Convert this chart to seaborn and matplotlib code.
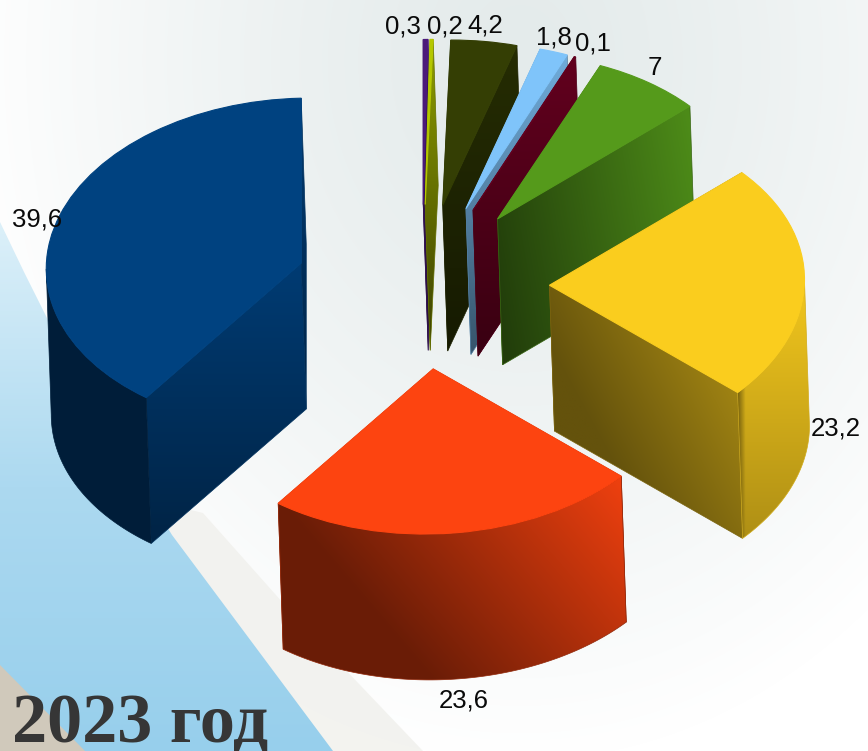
import numpy as np
import matplotlib
matplotlib.use("Agg")
import matplotlib.pyplot as plt
from matplotlib.colors import to_rgb
from matplotlib.patches import Polygon
from matplotlib.transforms import Affine2D
import seaborn as sns

# ---- data ----
values = [0.3, 0.2, 4.2, 1.8, 0.1, 7, 23.2, 23.6, 39.6]
labels = ["0,3", "0,2", "4,2", "1,8", "0,1", "7", "23,2", "23,6", "39,6"]
colors = ["#4b1a7a", "#b5c800", "#343e04", "#7fc4fa", "#62001e",
          "#559a1b", "#facd1e", "#fd4410", "#004280"]
title = "2023 год"

# ---- style ----
W, H = 868, 751
CX, CY, A, B = 422, 287, 255, 165       # pie centre and ellipse radii (px)
DEPTH_PX, SHEAR_PX = 146, 5
EXPLODE = 0.5
TILT = 0.034                            # slight view tilt of the whole pie

sns.set_theme(style="white")
plt.rcParams["font.family"] = ["Liberation Sans", "DejaVu Sans"]

fig = plt.figure(figsize=(W / 100, H / 100), dpi=100)
ax = fig.add_axes([0, 0, 1, 1])
ax.set_axis_off()

def P(px, py):
    return (px - CX) / A, (CY - py) / B

# ---- background ----
XLIM = (P(0, 0)[0], P(W, 0)[0])
YLIM = (P(0, H)[1], P(0, 0)[1])
yy, xx = np.mgrid[0:H, 0:W]
dist = np.hypot((xx - 520) / 560, (yy - 60) / 700)
t = np.clip(dist, 0, 1) ** 1.3
bg_c = np.array(to_rgb("#e4ebeb"))
bg = bg_c[None, None, :] + (1 - bg_c)[None, None, :] * t[..., None]
ax.imshow(bg, extent=(*XLIM, *YLIM), origin="upper", aspect="auto", zorder=0)

band = [(150, 500), (203, 513), (300, 622), (423, 751), (300, 751)]
ax.add_patch(Polygon([P(*p) for p in band], fc="#f1f1ed", ec="none", alpha=.85, zorder=1))

swoosh = [(0, 222), (24, 272), (48, 320), (100, 418), (172, 535),
          (333, 751), (0, 751)]
sw_patch = Polygon([P(*p) for p in swoosh], transform=ax.transData, fc="none", ec="none")
ax.add_patch(sw_patch)
sw_cmap = sns.blend_palette(["#dcf0f9", "#acd9f0", "#97cfec"], as_cmap=True)
sw = sw_cmap(np.linspace(0, 1, 256))[:, :3][:, None, :]
im = ax.imshow(sw, extent=(P(0, 0)[0], P(340, 0)[0], P(0, 751)[1], P(0, 222)[1]),
               origin="upper", aspect="auto", zorder=2)
im.set_clip_path(sw_patch)
ax.add_patch(Polygon([P(0, 665), P(85, 751), P(0, 751)], fc="#d0c9bb", ec="none", zorder=3))

# ---- top faces drawn by pie ----
wedges, _ = ax.pie(values, colors=colors, startangle=90, counterclock=False,
                   explode=[EXPLODE] * len(values), radius=1, frame=False,
                   wedgeprops=dict(linewidth=0))
ax.set_aspect("auto")
tilt = Affine2D.from_values(1, TILT, 0, 1, 0, 0)
for w, col in zip(wedges, colors):
    w.set_transform(tilt + ax.transData)
    w.set_edgecolor(col)
    w.set_linewidth(0.8)

# draw order back to front, shading (base, du, dv, floor)
order = [0, 1, 2, 3, 4, 5, 8, 6, 7]
cut_shade = [(.80, 0, -.3, .4), (.78, 0, -.45, .3), (.72, 0, -.3, .4),
             (.88, 0, -.45, .4), (1.0, 0, -.42, .5), (.48, .44, -.1, .4),
             (.45, .28, -.2, .4), (.6, 0, 0, .4), (.9, 0, -.36, .5)]
arc_shade = {6: (.97, 0, -.27, .6), 7: (.45, .5, -.25, .42), 8: (.45, 0, 0, .4)}
arc_ramp = {6: .10, 8: .0, 7: .0}

dx, dy = SHEAR_PX / A, DEPTH_PX / B

def face(poly, color, shade, zorder, ramp=0.0):
    poly = np.array(poly, dtype=float)
    poly[:, 1] += TILT * poly[:, 0]
    x0, y0 = poly.min(axis=0)
    x1, y1 = poly.max(axis=0)
    v, u = np.mgrid[0:1:80j, 0:1:80j]
    base, du, dv, floor = shade
    f = np.clip(base + du * u + dv * v, floor, 1)
    if ramp:
        f = f * np.clip(.6 + .4 * u / ramp, 0, 1)
    img = np.clip(f[..., None] * np.array(to_rgb(color)), 0, 1)
    patch = Polygon(poly, transform=ax.transData, fc="none", ec="none", zorder=zorder)
    ax.add_patch(patch)
    im = ax.imshow(img, extent=(x0, x1, y0, y1), origin="upper", aspect="auto",
                   zorder=zorder, interpolation="bilinear")
    im.set_clip_path(patch)
    edge = np.array(to_rgb(color)) * np.clip(base + du / 2 + dv / 2, floor, 1)
    ax.add_patch(Polygon(poly, fc="none", ec=edge, lw=0.5, zorder=zorder))

z = 10
for i in order:
    w = wedges[i]
    c = np.array(w.center)
    r = w.r
    off = np.array([dx, -dy])
    radial = []
    for th in (w.theta1, w.theta2):
        o = c + r * np.array([np.cos(np.radians(th)), np.sin(np.radians(th))])
        radial.append((o[1], [c, o, o + off, c + off]))
    radial.sort(key=lambda item: -item[0])
    for _, poly in radial:
        face(poly, colors[i], cut_shade[i], z)
        z += 1
    ths = np.radians(np.linspace(w.theta1, w.theta2, 240))
    ths = ths[np.sin(ths) <= 0]
    if len(ths) > 1:
        arc = c + r * np.column_stack([np.cos(ths), np.sin(ths)])
        face(np.vstack([arc, arc[::-1] + off]), colors[i], arc_shade.get(i, cut_shade[i]),
             z, arc_ramp.get(i, 0))
        z += 1
    w.set_zorder(z)
    z += 1

# ---- value labels, anchored on each slice's outer arc ----
label_offsets = [(-23, 13.5), (13, 13.5), (1, 17), (0, 17), (18, 17),
                 (6, 20), (31, -138), (8, -167), (-23, -12)]
for w, text, (ox, oy) in zip(wedges, labels, label_offsets):
    mid = np.radians((w.theta1 + w.theta2) / 2)
    xy = (w.center[0] + w.r * np.cos(mid), w.center[1] + w.r * np.sin(mid))
    ax.annotate(text, xy=xy, xytext=(ox * .72, oy * .72), textcoords="offset points",
                ha="center", va="center", fontsize=18.5, color="#0a0a0a", zorder=200)

ax.text(*P(12, 742), title, family=["Liberation Serif", "DejaVu Serif"], weight="bold",
        fontsize=50.5, color="#363636", ha="left", va="baseline", zorder=201)

ax.set_xlim(*XLIM)
ax.set_ylim(*YLIM)
fig.savefig("out.png", dpi=100)
